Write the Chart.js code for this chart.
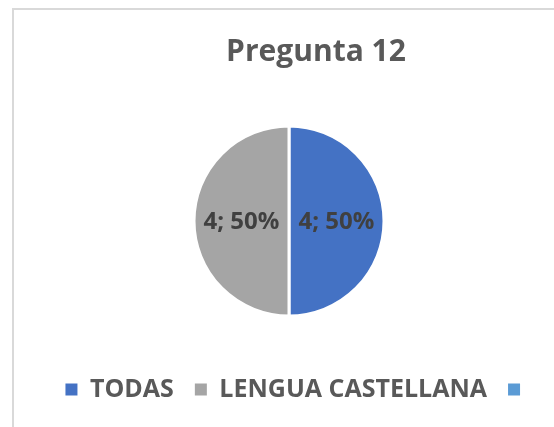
<!DOCTYPE html>
<html>
<head>
  <meta charset="utf-8">
  <title>Pregunta 12</title>
  <script src="https://cdn.jsdelivr.net/npm/chart.js"></script>
  <style>
    body { margin: 0; padding: 0; background: #fff; overflow: hidden; font-family: "Open Sans", sans-serif; }
    #frame {
      position: absolute;
      left: 12px;
      top: 8px;
      width: 600px;
      height: 500px;
      border-left: 2px solid #d9d9d9;
      border-top: 2px solid #d9d9d9;
    }
    #wrap { position: absolute; left: 0; top: 0; width: 554px; height: 427px; }
  </style>
</head>
<body>
  <div id="frame"></div>
  <div id="wrap"><canvas id="chart"></canvas></div>

  <script>
    // values
    const titleText = 'Pregunta 12';
    const categories = ['TODAS', 'LENGUA CASTELLANA', ''];
    const counts = [4, 4, 0];
    const sliceColors = ['#4472C4', '#A5A5A5', '#5B9BD5'];

    // "4; 50%" labels in the middle of each slice
    const sliceLabels = {
      id: 'sliceLabels',
      afterDatasetsDraw(chart) {
        const ctx = chart.ctx;
        const meta = chart.getDatasetMeta(0);
        const total = counts.reduce((a, b) => a + b, 0);
        ctx.save();
        ctx.font = 'bold 24px "Open Sans"';
        ctx.fillStyle = '#404040';
        ctx.textAlign = 'center';
        ctx.textBaseline = 'middle';
        meta.data.forEach((arc, i) => {
          if (!counts[i]) return;
          const pos = arc.tooltipPosition();
          const pct = Math.round(counts[i] / total * 100);
          ctx.fillText(counts[i] + '; ' + pct + '%', pos.x, pos.y + 1);
        });
        ctx.restore();
      }
    };

    // title and legend sit a bit right of the pie centre in the original
    const nudge = {
      id: 'nudge',
      afterLayout(chart) {
        if (chart.titleBlock) { chart.titleBlock.left += 27; chart.titleBlock.right += 27; }
        if (chart.legend) { chart.legend.left += 10; chart.legend.right += 10; }
      }
    };

    const baseLabels = Chart.overrides.doughnut.plugins.legend.labels.generateLabels;

    new Chart(document.getElementById('chart'), {
      type: 'pie',
      data: {
        labels: categories,
        datasets: [{
          data: counts,
          backgroundColor: sliceColors,
          borderColor: '#ffffff',
          borderWidth: 3,
          radius: 95
        }]
      },
      options: {
        responsive: true,
        maintainAspectRatio: false,
        animation: false,
        layout: { padding: { left: 24, right: 0, top: 0, bottom: 15 } },
        plugins: {
          title: {
            display: true,
            text: titleText,
            color: '#595959',
            font: { family: 'Open Sans', size: 30, weight: 'bold' },
            padding: { top: 34, bottom: 16 }
          },
          legend: {
            position: 'bottom',
            labels: {
              color: '#595959',
              font: { family: 'Open Sans', size: 25, weight: 'bold' },
              boxWidth: 12,
              boxHeight: 12,
              padding: 21,
              generateLabels(chart) {
                return baseLabels(chart).map(item => Object.assign(item, { lineWidth: 0 }));
              }
            }
          },
          tooltip: { enabled: false }
        }
      },
      plugins: [sliceLabels, nudge]
    });
  </script>
</body>
</html>
